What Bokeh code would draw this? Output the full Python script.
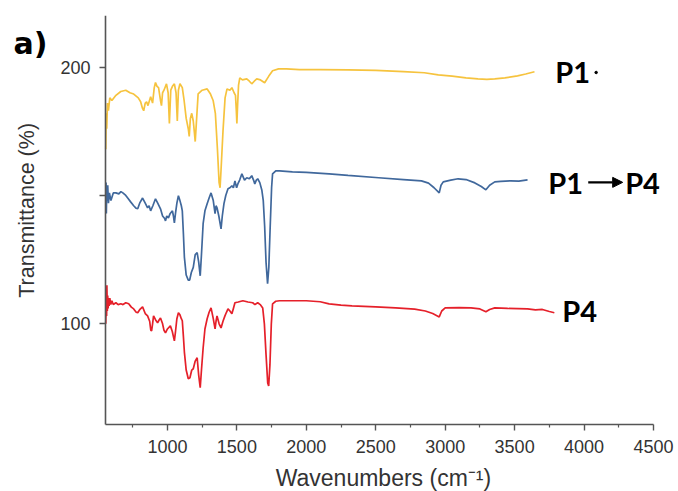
import math
from bokeh.plotting import figure
from bokeh.models import Range1d, FixedTicker, Label, Arrow, NormalHead, LinearAxis
from bokeh.embed import file_html
from bokeh.resources import INLINE

# ---- data ----
p1_wn = [556, 559, 563, 568, 575, 585, 600, 629, 664, 700, 730, 757, 790, 807, 820, 829, 840, 850, 860, 879,
         893, 905, 914, 925, 936, 950, 957, 965, 975, 993, 1005, 1014, 1024, 1036, 1050, 1062, 1071, 1079, 1090,
         1107, 1120, 1135, 1150, 1157, 1165, 1175, 1186, 1195, 1200, 1208, 1221, 1250, 1286, 1310, 1329, 1345,
         1360, 1372, 1379, 1386, 1400, 1415, 1429, 1450, 1464, 1480, 1490, 1496, 1500, 1505, 1512, 1521, 1540,
         1571, 1590, 1607, 1625, 1643, 1670, 1700, 1730, 1757, 1800, 1857, 1950, 2100, 2300, 2500, 2700, 2850,
         2950, 3050, 3150, 3236, 3300, 3357, 3430, 3521, 3580, 3643]
p1_t = [168, 182, 176, 186, 183, 188, 187, 189, 190.5, 191, 190, 189.5, 188, 186.5, 184, 183, 186, 186.5, 185, 188.5,
        186, 192, 194, 192.5, 192, 187, 185, 190, 191, 193.5, 190, 178, 191, 192.5, 193.5, 190, 179, 191, 193.5,
        192, 187, 180, 176, 173, 180, 182, 179, 174, 171, 178, 189.6, 191, 191.5, 189.5, 187, 182,
        168, 155, 153, 160, 175, 188, 191.5, 191, 192, 190, 189, 183, 178, 185, 193, 195.8, 195,
        195.4, 194.5, 193.5, 194.5, 195.4, 195, 193.9, 196.5, 198.6, 199.3, 199.3, 199, 199, 198.9, 198.7, 198.2, 197.8,
        197, 196.5, 195.8, 195.4, 195.2, 195.4, 195.8, 196.6, 197.3, 198.2]

p14_wn = [556, 558, 560, 563, 566, 570, 575, 582, 593, 610, 629, 650, 665, 679, 700, 714, 735, 757, 775, 786, 800,
          821, 840, 857, 868, 879, 895, 914, 930, 950, 965, 980, 986, 995, 1007, 1020, 1036, 1043, 1050, 1058, 1068,
          1079, 1090, 1100, 1107, 1115, 1122, 1135, 1150, 1160, 1172, 1186, 1200, 1214, 1225, 1236, 1245, 1257, 1270,
          1286, 1300, 1314, 1330, 1343, 1350, 1357, 1370, 1386, 1395, 1407, 1420, 1436, 1450, 1464, 1475, 1486, 1498,
          1507, 1520, 1536, 1555, 1571, 1590, 1607, 1620, 1629, 1640, 1650, 1665, 1680, 1690, 1700, 1710, 1721, 1730,
          1740, 1750, 1757, 1780, 1807, 1900, 2000, 2164, 2300, 2521, 2700, 2829, 2880, 2920, 2957, 2970, 2986, 3040,
          3093, 3150, 3214, 3260, 3293, 3320, 3357, 3400, 3471, 3530, 3593]
p14_t = [150, 155, 143, 153, 148, 154, 147, 151, 148, 151, 151, 150.6, 151.5, 151, 150, 149, 147.5, 146, 145, 144.8, 147,
         149, 147, 145.2, 146, 144, 146, 148.7, 147, 144.8, 142, 141, 140.1, 142, 141.3, 143, 144, 142, 139.3, 143, 147,
         149.9, 148, 146, 144, 135, 126, 119, 117, 117, 120, 122, 127, 127.7, 124, 118.7, 127, 139, 144,
         146.8, 149, 151, 148, 142.9, 146, 145.2, 142, 137, 142, 146.8, 150, 152.6, 153, 153.8, 153, 155.7, 153,
         154.5, 156, 158.4, 156, 156.9, 156.5, 157.7, 156, 154.5, 156, 156.5, 155, 152, 148, 138, 124, 115.6, 122,
         138, 153, 158.4, 159.6, 159.6, 159.2, 159, 158.4, 157.8, 156.9, 156.2, 155.7, 154.8, 153, 151, 154, 155.3, 156,
         156.5, 156.2, 154.9, 153.5, 152.2, 154, 155.3, 155.5, 155.7, 155.6, 156.1]

p4_wn = [556, 558, 560, 562, 564, 567, 570, 573, 576, 580, 585, 592, 600, 610, 629, 645, 664, 680, 700, 721, 740, 757,
         775, 786, 800, 821, 840, 857, 872, 880, 886, 893, 900, 915, 929, 940, 950, 965, 975, 986, 1000, 1021, 1035,
         1043, 1050, 1058, 1068, 1079, 1090, 1100, 1107, 1115, 1122, 1135, 1150, 1162, 1175, 1186, 1200, 1214, 1225,
         1236, 1245, 1257, 1270, 1286, 1300, 1314, 1330, 1343, 1350, 1357, 1372, 1386, 1400, 1414, 1425, 1436, 1450,
         1464, 1475, 1486, 1510, 1543, 1580, 1614, 1630, 1650, 1668, 1686, 1698, 1710, 1722, 1729, 1738, 1748, 1757,
         1780, 1807, 1950, 2000, 2100, 2164, 2250, 2329, 2500, 2643, 2780, 2857, 2910, 2957, 2975, 3000, 3100, 3186,
         3250, 3293, 3320, 3357, 3450, 3593, 3650, 3700, 3750, 3786]
p4_t = [100, 108, 112, 103, 115, 105, 111, 106, 110, 107, 110, 107.5, 109, 107.5, 108.2, 107.5, 107.8, 107.5, 108.2,
        107.8, 106.5, 105.8, 104.5, 104.3, 105.5, 106.6, 104, 103.1, 101, 97.5, 97.3, 100, 103.1, 101.5, 100.4, 101.5,
        102.3, 100, 97.5, 96.5, 98, 99.2, 97, 95, 93.4, 97, 102, 104.3, 103.5, 102, 101.2, 95, 89, 82, 78.6, 79, 82,
        82.5, 85.5, 86.8, 80, 75.1, 82, 90.6, 98, 102, 104.5, 106.2, 102, 98, 101, 103.1, 100, 98.4, 101, 103.1, 104.5,
        105.8, 105, 103.9, 106, 108.2, 108.5, 109, 108.5, 108.2, 107.5, 108.2, 107.5, 106.2, 100, 88, 77, 75.8, 84,
        100, 107.8, 108.8, 109, 109, 109, 108.6, 107.8, 107.3, 107, 106.6, 106.2, 105.7, 105, 104, 102.7, 105, 106.2,
        106.3, 106.2, 105.8, 104.7, 105.6, 106.2, 106, 105.8, 105.4, 105.6, 104.8, 104.3]

x_ticks = [1000, 1500, 2000, 2500, 3000, 3500, 4000, 4500]
x_minor = [750, 1250, 1750, 2250, 2750, 3250, 3750, 4250]
y_ticks = [100, 150, 200]
x_lo, x_hi = 554, 4500
y_lo, y_hi = 60.8, 220.1

series_labels = ["P1", "P1", "P4", "P4"]
label_x = [3792, 3742, 4296, 3843]
label_y = [198.3, 155.1, 155.1, 105.2]

x_title = "Wavenumbers (cm\u207b\u00b9)"
y_title = "Transmittance (%)"

# ---- figure ----
# the frame spans the whole canvas; axes are pinned at (x_lo, y_lo) and bounded
p = figure(width=678, height=491, output_backend="svg", toolbar_location=None,
           x_range=Range1d(-202.1, 4680), y_range=Range1d(34.69, y_hi),
           x_axis_location=None, y_axis_location=None,
           min_border_left=0, min_border_right=0, min_border_top=15, min_border_bottom=0)
p.outline_line_color = None
p.grid.visible = False
p.background_fill_color = "white"
p.border_fill_color = "white"

xax = LinearAxis(fixed_location=y_lo, bounds=(x_lo, x_hi))
yax = LinearAxis(fixed_location=x_lo, bounds=(y_lo, y_hi))
p.add_layout(xax, "below")
p.add_layout(yax, "left")

p.line(p1_wn, p1_t, line_color="#F6C33E", line_width=1.7)
p.line(p14_wn, p14_t, line_color="#40689C", line_width=1.7)
p.line(p4_wn, p4_t, line_color="#E5202A", line_width=1.7)

for ax in (xax, yax):
    ax.axis_line_color = "#555555"
    ax.axis_line_width = 1.6
    ax.major_tick_line_color = "#555555"
    ax.minor_tick_line_color = "#555555"
    ax.major_tick_line_width = 1.4
    ax.minor_tick_line_width = 1.2
    ax.major_tick_in = 0
    ax.major_tick_out = 6
    ax.minor_tick_in = 0
    ax.minor_tick_out = 3
    ax.major_label_text_font = "Liberation Sans"
    ax.major_label_text_font_size = "18px"
    ax.major_label_text_color = "#333333"

xax.ticker = FixedTicker(ticks=x_ticks, minor_ticks=x_minor)
yax.ticker = FixedTicker(ticks=y_ticks, minor_ticks=[])
yax.major_label_overrides = {150: ""}
xax.major_label_standoff = 10
yax.major_label_standoff = 9

# axis titles
p.add_layout(Label(x=2555, y=40.1, text=x_title, text_font="Liberation Sans", text_font_size="23px",
                   text_color="#333333", text_align="center", text_baseline="middle"))
p.add_layout(Label(x=-7.7, y=144.2, text=y_title, text_font="Liberation Sans", text_font_size="21.5px",
                   text_color="#333333", text_align="center", text_baseline="middle", angle=math.pi / 2))

for txt, lx, ly in zip(series_labels, label_x, label_y):
    p.add_layout(Label(x=lx, y=ly, text=txt, text_font="Lato", text_font_style="bold",
                       text_font_size="29px", text_color="black", text_baseline="middle", text_align="left"))

p.add_layout(Arrow(x_start=4030, y_start=155.1, x_end=4278, y_end=155.1, line_width=2.2, line_color="black",
                   end=NormalHead(size=10, fill_color="black", line_color="black")))
p.scatter([4087], [197.9], size=2.5, color="black")

p.add_layout(Label(x=-108.5, y=209.2, text="a)", text_font="DejaVu Sans", text_font_style="bold",
                   text_font_size="30px", text_color="black", text_baseline="middle", text_align="left"))

open("out.html", "w").write(file_html(p, INLINE))
